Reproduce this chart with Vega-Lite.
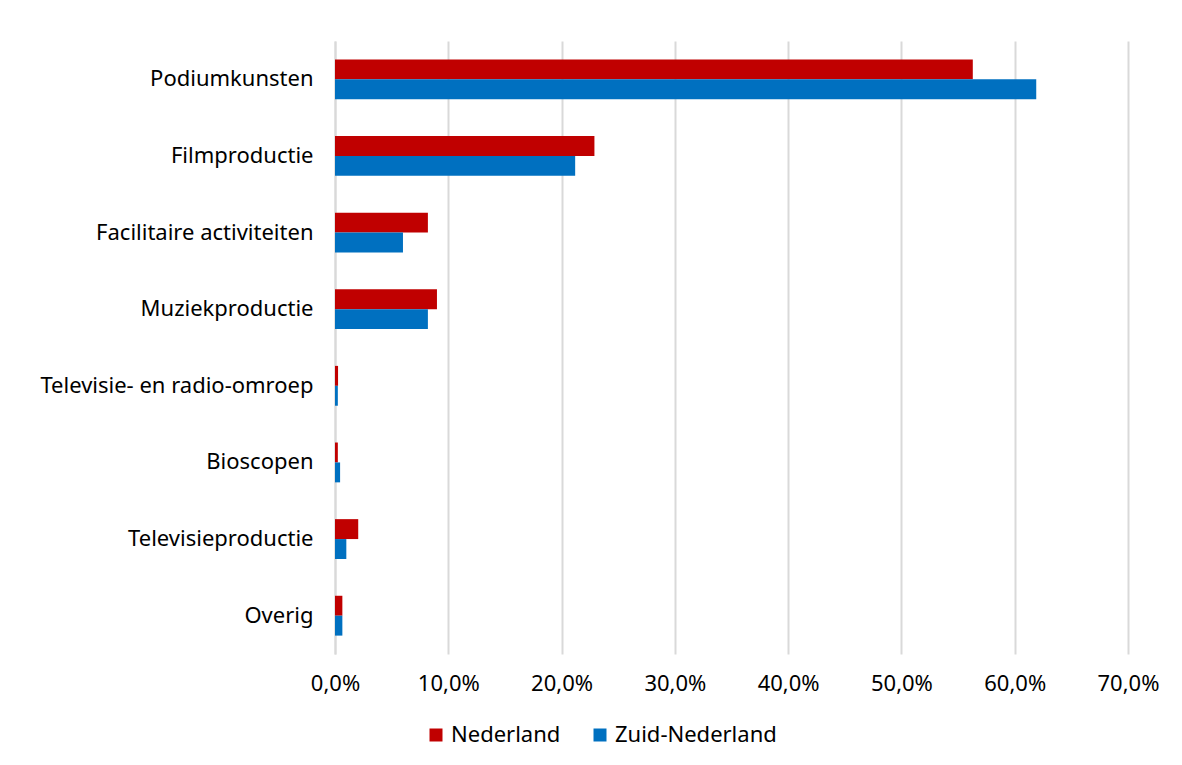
{
  "$schema": "https://vega.github.io/schema/vega-lite/v6.json",
  "autosize": {"type": "none"},
  "padding": {"left": 335, "top": 41, "right": 54, "bottom": 111},
  "width": 793,
  "height": 613,
  "background": "white",
  "config": {
    "font": "Noto Sans",
    "view": {"stroke": null}
  },
  "data": {
    "values": [
      {"sector": "Podiumkunsten", "regio": "Nederland", "aandeel": 0.563},
      {"sector": "Podiumkunsten", "regio": "Zuid-Nederland", "aandeel": 0.619},
      {"sector": "Filmproductie", "regio": "Nederland", "aandeel": 0.229},
      {"sector": "Filmproductie", "regio": "Zuid-Nederland", "aandeel": 0.212},
      {"sector": "Facilitaire activiteiten", "regio": "Nederland", "aandeel": 0.082},
      {"sector": "Facilitaire activiteiten", "regio": "Zuid-Nederland", "aandeel": 0.060},
      {"sector": "Muziekproductie", "regio": "Nederland", "aandeel": 0.090},
      {"sector": "Muziekproductie", "regio": "Zuid-Nederland", "aandeel": 0.082},
      {"sector": "Televisie- en radio-omroep", "regio": "Nederland", "aandeel": 0.0027},
      {"sector": "Televisie- en radio-omroep", "regio": "Zuid-Nederland", "aandeel": 0.0025},
      {"sector": "Bioscopen", "regio": "Nederland", "aandeel": 0.0025},
      {"sector": "Bioscopen", "regio": "Zuid-Nederland", "aandeel": 0.0045},
      {"sector": "Televisieproductie", "regio": "Nederland", "aandeel": 0.0205},
      {"sector": "Televisieproductie", "regio": "Zuid-Nederland", "aandeel": 0.010},
      {"sector": "Overig", "regio": "Nederland", "aandeel": 0.0065},
      {"sector": "Overig", "regio": "Zuid-Nederland", "aandeel": 0.0065}
    ]
  },
  "mark": {"type": "bar"},
  "encoding": {
    "y": {
      "field": "sector",
      "type": "nominal",
      "sort": null,
      "scale": {"paddingInner": 0.48, "paddingOuter": 0.24},
      "axis": {
        "title": null,
        "ticks": false,
        "domain": true,
        "domainColor": "#d9d9d9",
        "domainWidth": 2,
        "labelFontSize": 22,
        "labelColor": "#000000",
        "labelPadding": 22,
        "labelLimit": 400,
        "labelFont": "Noto Sans"
      }
    },
    "yOffset": {"field": "regio", "type": "nominal", "sort": ["Nederland", "Zuid-Nederland"]},
    "x": {
      "field": "aandeel",
      "type": "quantitative",
      "scale": {"domain": [0, 0.7], "nice": false},
      "axis": {
        "title": null,
        "values": [0, 0.1, 0.2, 0.3, 0.4, 0.5, 0.6, 0.7],
        "labelExpr": "replace(format(datum.value, '.1%'), '.', ',')",
        "ticks": false,
        "domain": false,
        "grid": true,
        "gridColor": "#d9d9d9",
        "gridWidth": 2,
        "labelFlush": false,
        "labelOverlap": false,
        "labelFontSize": 22,
        "labelColor": "#000000",
        "labelPadding": 19,
        "labelFont": "Noto Sans"
      }
    },
    "color": {
      "field": "regio",
      "type": "nominal",
      "scale": {"domain": ["Nederland", "Zuid-Nederland"], "range": ["#C00000", "#0070C0"]},
      "legend": {
        "title": null,
        "orient": "none",
        "direction": "horizontal",
        "legendX": 90,
        "legendY": 683,
        "symbolType": "square",
        "symbolSize": 169,
        "symbolStrokeWidth": 0,
        "symbolOpacity": 1,
        "labelFontSize": 22,
        "labelColor": "#000000",
        "labelFont": "Noto Sans",
        "labelLimit": 400,
        "labelOffset": 4,
        "columnPadding": 28
      }
    }
  }
}
